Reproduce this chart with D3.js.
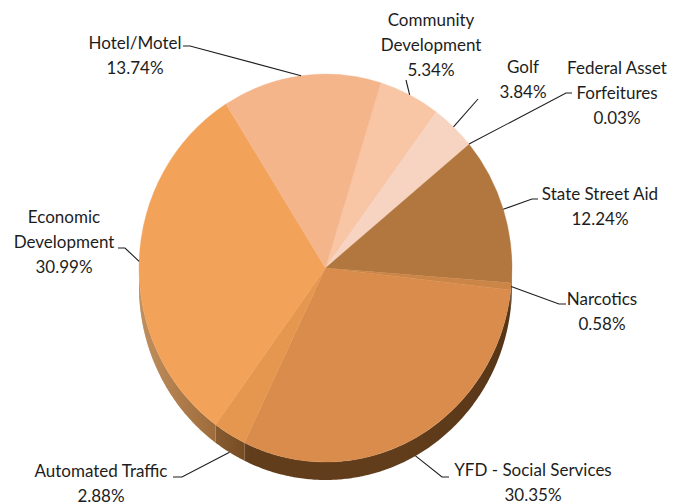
<!DOCTYPE html>
<html>
<head>
<meta charset="utf-8">
<script src="https://cdn.jsdelivr.net/npm/d3@7"></script>
<style>
  html, body { margin: 0; padding: 0; background: #ffffff; }
  svg { display: block; }
  .lbl { font-family: Lato, "Open Sans", sans-serif; font-size: 17px; fill: #1d1d1d; }
  .leader { fill: none; stroke: #1d1d1d; stroke-width: 1.1; }
</style>
</head>
<body>
<svg id="chart" width="683" height="504"></svg>
<script>
// Fund shares (percent), listed clockwise starting at the top-right of the pie
const categories = [
  "Community Development", "Golf", "Federal Asset Forfeitures", "State Street Aid",
  "Narcotics", "YFD - Social Services", "Automated Traffic", "Economic Development", "Hotel/Motel"
];
const shares = [5.34, 3.84, 0.03, 12.24, 0.58, 30.35, 2.88, 30.99, 13.74];
const labelLines = [
  ["Community", "Development"], ["Golf"], ["Federal Asset", "Forfeitures"], ["State Street Aid"],
  ["Narcotics"], ["YFD - Social Services"], ["Automated Traffic"], ["Economic", "Development"], ["Hotel/Motel"]
];
const percentLabels = shares.map(v => v.toFixed(2) + "%");

// Slice fills for the top face and the visible rim
const topColors = ["#F8C5A5", "#F6D4C1", "#F9DFD0", "#B1773F", "#CB8647", "#D98C4B", "#E6974F", "#F2A259", "#F4B58B"];
const wallColors = ["#8A5A33", "#8A5A33", "#8A5A33", "#5A3619", "#5C3819", "#623D1B", "#74481F", "#8E5A2A", "#8E5A2A"];

// Label placement: text centre x, first line centre y, leader bend points (label side first)
const labelLayout = [
  { x: 431, y: 19,  bends: [[406, 80]] },
  { x: 523, y: 66,  bends: [[478, 99]] },
  { x: 617, y: 67,  bends: [[572, 93], [566, 93]] },
  { x: 600, y: 193, bends: [[538, 199], [532, 199]] },
  { x: 602, y: 298, bends: [[566, 304], [559, 304]] },
  { x: 533, y: 469, bends: [[449, 477], [442, 477]] },
  { x: 101, y: 470, bends: [[173, 477], [182, 477]] },
  { x: 64,  y: 216, bends: [[118, 248], [125, 248]] },
  { x: 135, y: 42,  bends: [[183, 46], [190, 46]] }
];

const svg = d3.select("#chart");
const cx = 325.5, cy = 268, rx = 186.5, ry = 194, depth = 18;
const lineGap = 25;

const toRad = d => d * Math.PI / 180;
const startAngle = toRad(17.2);
const pie = d3.pie().sort(null).value(d => d)
  .startAngle(startAngle).endAngle(startAngle + 2 * Math.PI);
const arcs = pie(shares);

// point on the elliptical rim; angle clockwise from 12 o'clock
const rim = (a, dy = 0) => [cx + rx * Math.sin(a), cy - ry * Math.cos(a) + dy];

const defs = svg.append("defs");
const shade = defs.append("linearGradient").attr("id", "rimShade")
  .attr("gradientUnits", "userSpaceOnUse")
  .attr("x1", cx - rx).attr("y1", 0).attr("x2", cx + rx).attr("y2", 0);
shade.append("stop").attr("offset", 0).attr("stop-color", "#ffd2a0").attr("stop-opacity", 0.45);
shade.append("stop").attr("offset", 0.3).attr("stop-color", "#ffd2a0").attr("stop-opacity", 0);
shade.append("stop").attr("offset", 0.7).attr("stop-color", "#000").attr("stop-opacity", 0);
shade.append("stop").attr("offset", 1).attr("stop-color", "#000").attr("stop-opacity", 0.12);

// Rim (side wall) for the front half of each slice
const front0 = Math.PI / 2, front1 = 3 * Math.PI / 2;
function wallPath(a0, a1) {
  const s = Math.max(a0, front0), e = Math.min(a1, front1);
  if (e <= s) return null;
  const n = Math.max(2, Math.ceil((e - s) / 0.01));
  const top = d3.range(n + 1).map(i => rim(s + (e - s) * i / n));
  const bottom = top.map(p => [p[0], p[1] + depth]).reverse();
  return d3.line()(top.concat(bottom)) + "Z";
}

const walls = svg.append("g");
arcs.forEach((d, i) => {
  const p = wallPath(d.startAngle, d.endAngle);
  if (p) walls.append("path").attr("d", p).attr("fill", wallColors[i]);
});
const wholeWall = wallPath(front0, front1);
walls.append("path").attr("d", wholeWall).attr("fill", "url(#rimShade)");

// Top face: a circle of radius ry squeezed horizontally into the ellipse
const arc = d3.arc().innerRadius(0).outerRadius(ry);
svg.append("g")
  .attr("transform", `translate(${cx},${cy}) scale(${rx / ry},1)`)
  .selectAll("path").data(arcs).join("path")
  .attr("d", arc)
  .attr("fill", (d, i) => topColors[i])
  .attr("stroke", (d, i) => topColors[i])
  .attr("stroke-width", 0.4);

// Leader lines from each slice's rim midpoint to its label
const leaders = svg.append("g");
arcs.forEach((d, i) => {
  const mid = (d.startAngle + d.endAngle) / 2;
  const anchor = rim(mid, Math.cos(mid) < -0.5 ? depth : 0);
  const pts = labelLayout[i].bends.concat([anchor]);
  leaders.append("path").attr("class", "leader").attr("d", d3.line()(pts));
});

// Labels: category name lines followed by the percentage
const labels = svg.append("g");
categories.forEach((c, i) => {
  const lay = labelLayout[i];
  const lines = labelLines[i].concat([percentLabels[i]]);
  const t = labels.append("text").attr("class", "lbl").attr("text-anchor", "middle");
  lines.forEach((ln, k) => {
    t.append("tspan").attr("x", lay.x).attr("y", lay.y + k * lineGap)
      .attr("dominant-baseline", "central").text(ln);
  });
});
</script>
</body>
</html>
